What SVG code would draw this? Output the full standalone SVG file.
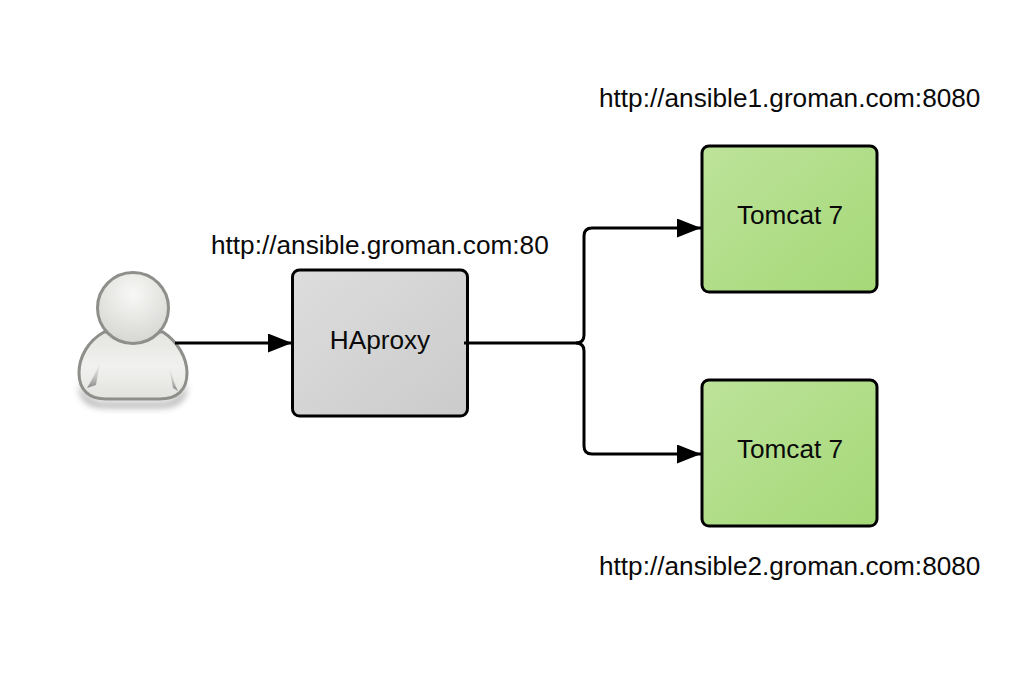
<svg xmlns="http://www.w3.org/2000/svg" width="1024" height="673" viewBox="0 0 1024 673">
<style>
text{font-family:"Liberation Sans",Arial,sans-serif;font-size:26.2px;fill:#0a0a0a}
.c{text-anchor:middle}
.box{stroke:#000;stroke-width:3}
.line{fill:none;stroke:#000;stroke-width:3}
</style>
<defs>
<linearGradient id="g" x1="0" y1="0" x2="1" y2="1"><stop offset="0" stop-color="#dddddd"/><stop offset="1" stop-color="#cbcbcb"/></linearGradient>
<linearGradient id="t" x1="0" y1="0" x2="1" y2="1"><stop offset="0" stop-color="#bde39a"/><stop offset="1" stop-color="#a5d877"/></linearGradient>
<radialGradient id="h" cx="0.5" cy="0.3" r="0.7"><stop offset="0" stop-color="#f8f8f6"/><stop offset="1" stop-color="#d6d6d3"/></radialGradient>
<linearGradient id="b" x1="0" y1="0" x2="0" y2="1"><stop offset="0" stop-color="#e4e4e1"/><stop offset="0.5" stop-color="#f1f1ef"/><stop offset="1" stop-color="#e2e2df"/></linearGradient>
<linearGradient id="f" x1="0" y1="0" x2="0" y2="1"><stop offset="0" stop-color="#ddd" stop-opacity="0.2"/><stop offset="1" stop-color="#888"/></linearGradient>
<filter id="s" x="-20%" y="-30%" width="140%" height="160%"><feGaussianBlur stdDeviation="3.500"/></filter>
<marker id="a" markerUnits="userSpaceOnUse" markerWidth="26" markerHeight="20" refX="24" refY="9.500" orient="auto"><path d="M0 0L24 9.500L0 19Z" fill="#000"/></marker>
</defs>
<rect width="1024" height="673" fill="#fff"/>
<g id="user">
<path d="M80 375C80 395 90 403 106 403H160C176 403 186 395 186 375L186 392C182 404 172 407 160 407H106C94 407 84 404 80 392Z" fill="#444" opacity="0.6" filter="url(#s)"/>
<path d="M104 332C88 341 79 357 79 373C79 390 89 399 106 399H160C177 399 187 390 187 373C187 358 178 342 163 332Z" fill="url(#b)" stroke="#8e8e8b" stroke-width="3"/>
<path d="M100 362C96 372 92 380 87 388L96 385Z" fill="url(#f)"/>
<path d="M169 366C172 375 174 384 178 391L173 388Z" fill="url(#f)"/>
<circle cx="133" cy="308" r="35.500" fill="url(#h)" stroke="#8e8e8b" stroke-width="3"/>
</g>
<g id="haproxy">
<rect class="box" x="292.500" y="270" width="175" height="146" rx="7" fill="url(#g)"/>
<text class="c" x="380" y="349">HAproxy</text>
</g>
<g id="tomcat1">
<rect class="box" x="702" y="146" width="175" height="146" rx="7" fill="url(#t)"/>
<text class="c" x="790" y="224">Tomcat 7</text>
</g>
<g id="tomcat2">
<rect class="box" x="702" y="380" width="175" height="146" rx="7" fill="url(#t)"/>
<text class="c" x="790" y="458">Tomcat 7</text>
</g>
<g id="connectors">
<path class="line" d="M175 343H292" marker-end="url(#a)"/>
<path class="line" d="M464 343H576Q584 343 584 335V236Q584 228 592 228H701" marker-end="url(#a)"/>
<path class="line" d="M576 343Q584 343 584 351V446Q584 454 592 454H701" marker-end="url(#a)"/>
</g>
<g id="labels">
<text x="599" y="107">http://ansible1.groman.com:8080</text>
<text x="211" y="254">http://ansible.groman.com:80</text>
<text x="599" y="575">http://ansible2.groman.com:8080</text>
</g>
</svg>
